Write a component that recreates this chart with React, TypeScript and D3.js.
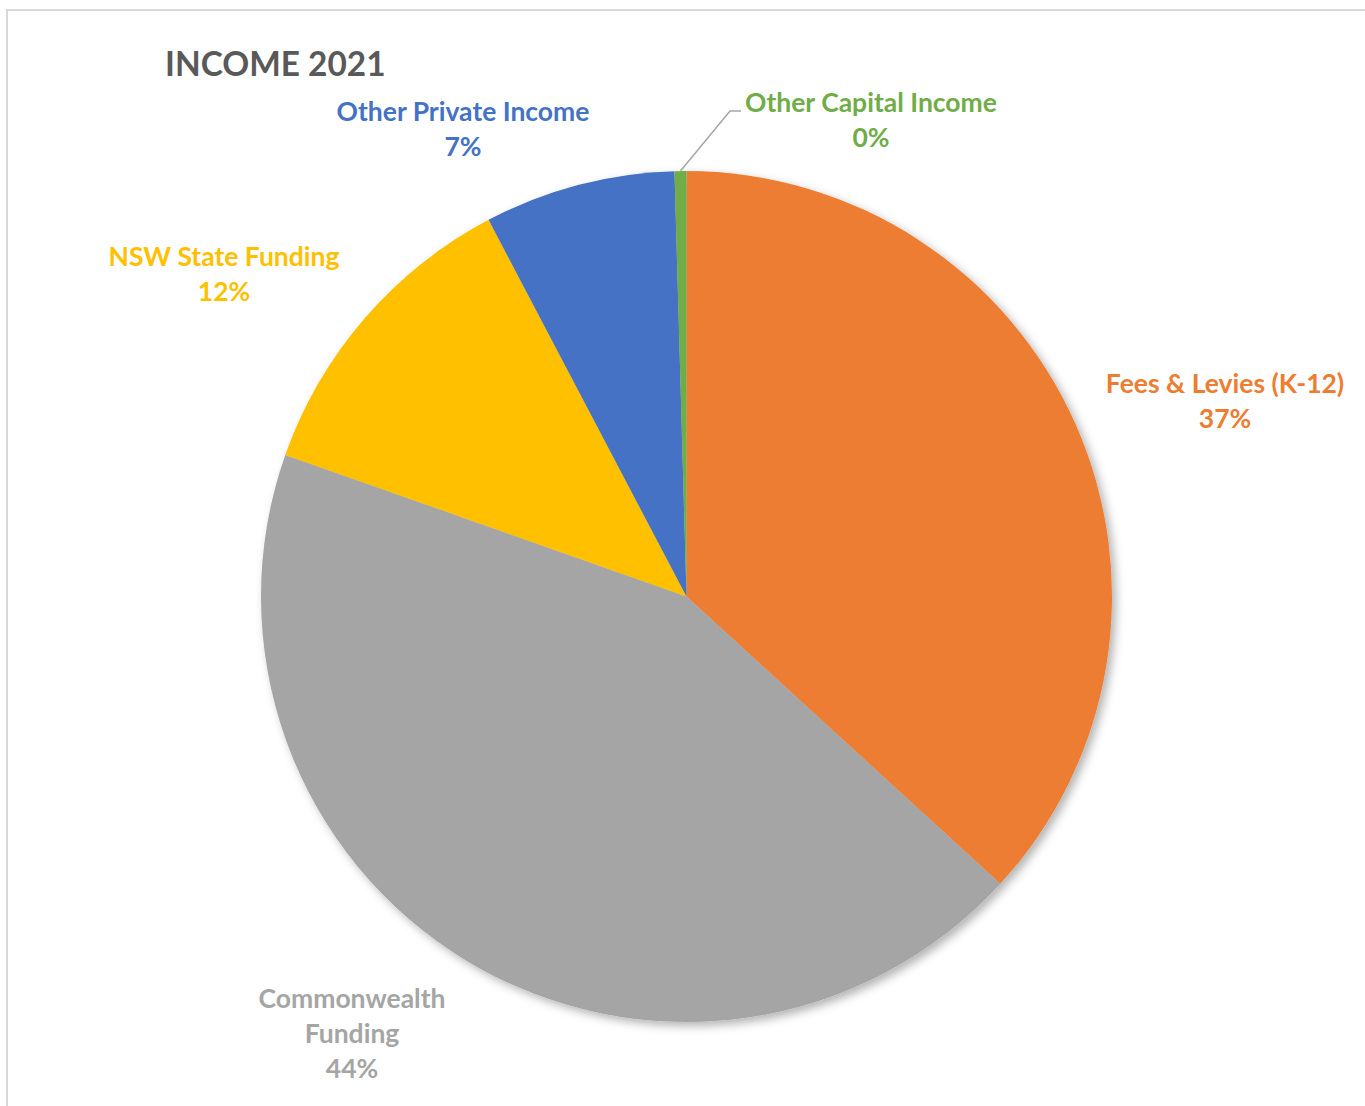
import * as d3 from "d3"

// Income 2021 — share of total income by source
const categories = [
  "Fees & Levies (K-12)",
  "Commonwealth Funding",
  "NSW State Funding",
  "Other Private Income",
  "Other Capital Income",
]
const shares = [36.8, 43.6, 11.9, 7.25, 0.45]
const colors = ["#ED7D31", "#A5A5A5", "#FFC000", "#4472C4", "#70AD47"]

// label lines as Excel wrapped them
const labelLines: string[][] = [
  ["Fees & Levies (K-12)"],
  ["Commonwealth", "Funding"],
  ["NSW State Funding"],
  ["Other Private Income"],
  ["Other Capital Income"],
]

// where each label block sits (center x, first baseline)
const labelAnchor: [number, number][] = [
  [1225, 393],
  [352, 1008],
  [224, 266],
  [463, 121],
  [871, 112],
]

const W = 1365
const H = 1106
const cx = 686.5
const cy = 596.5
const radius = 425.5
const font = "Lato, 'Open Sans', sans-serif"
const lineGap = 35

export default function App() {
  const pie = d3
    .pie<number>()
    .sort(null)
    .value((d) => d)
  const arcs = pie(shares)
  const arc = d3.arc<d3.PieArcDatum<number>>().innerRadius(0).outerRadius(radius)
  const total = d3.sum(shares)
  const pct = d3.format(".0%")

  // leader line for the tiny green slice
  const green = arcs[4]
  const mid = (green.startAngle + green.endAngle) / 2
  const p0: [number, number] = [cx + Math.sin(mid) * radius, cy - Math.cos(mid) * radius]
  const leader = d3.line()([p0, [730, 111], [741, 111]])

  return (
    <svg
      width={W}
      height={H}
      style={{ position: "absolute", left: 0, top: 0, display: "block" }}
    >
      <defs>
        <filter id="shadow" x="-10%" y="-10%" width="120%" height="120%">
          <feDropShadow dx="4" dy="4" stdDeviation="5" floodColor="#000" floodOpacity="0.3" />
        </filter>
      </defs>
      <rect x={0} y={0} width={W} height={H} fill="#fff" />
      <rect x={7} y={10} width={W + 10} height={H + 10} fill="#fff" stroke="#d9d9d9" strokeWidth={2} />

      <text
        x={165}
        y={76}
        fontFamily={font}
        fontWeight={700}
        fontSize={33.4}
        fill="#595959"
      >
        INCOME 2021
      </text>

      <g transform={`translate(${cx},${cy})`} filter="url(#shadow)">
        {arcs.map((a, i) => (
          <path key={categories[i]} d={arc(a) ?? ""} fill={colors[i]} />
        ))}
      </g>

      <path d={leader ?? ""} fill="none" stroke="#a6a6a6" strokeWidth={1.5} />

      {labelLines.map((lines, i) => {
        const [lx, ly] = labelAnchor[i]
        const all = [...lines, pct(shares[i] / total)]
        return (
          <text
            key={categories[i]}
            x={lx}
            y={ly}
            textAnchor="middle"
            fontFamily={font}
            fontWeight={700}
            fontSize={26.5}
            fill={colors[i]}
          >
            {all.map((t, j) => (
              <tspan key={j} x={lx} y={ly + j * lineGap}>
                {t}
              </tspan>
            ))}
          </text>
        )
      })}
    </svg>
  )
}
